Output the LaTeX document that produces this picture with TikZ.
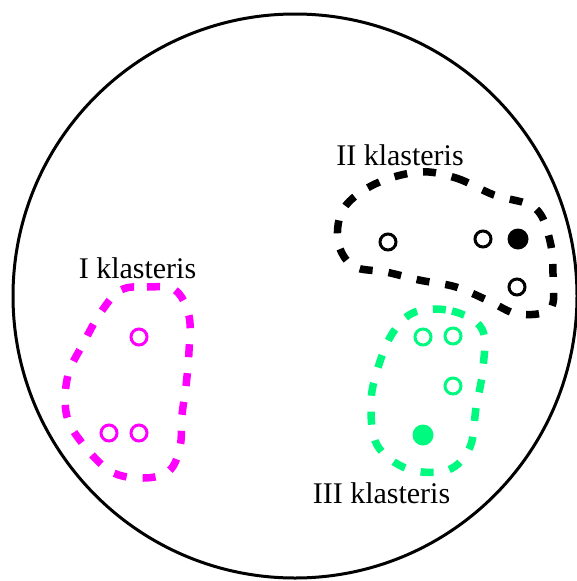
\documentclass[tikz,border=0pt]{standalone}
\usepackage{fontspec}
\setmainfont{Liberation Serif}
\usepackage{xcolor}
\usepackage{tikz}
\usetikzlibrary{positioning}
\definecolor{clmag}{RGB}{255,0,255}
\definecolor{clgreen}{RGB}{0,250,128}

\begin{document}
\begin{tikzpicture}[
    x=1pt, y=-1pt,
    obj/.style={draw, circle, line width=3pt, minimum size=16pt, inner sep=0pt},
    objfull/.style={circle, minimum size=21pt, inner sep=0pt},
    outline/.style={line width=7.5pt, dash pattern=on 13pt off 16pt},
    lbl/.style={font=\fontsize{30}{36}\selectfont, anchor=base, inner sep=0pt}
]
\useasboundingbox (0,0) rectangle (576,581);
% whole space
\node[draw, circle, line width=3pt, minimum size=564pt, inner sep=0pt] (space) at (295,296) {};

% cluster outlines
\draw[outline, clmag] plot[smooth cycle, tension=0.6] coordinates {
    (121,290) (147,287) (175,290) (189,316) (189,351) (186,386) (182,415) (180,447)
    (169,471) (143,478) (110,471) (79,439) (66,412) (68,375) (83,344) (101,312)};
\draw[outline, black] plot[smooth cycle, tension=0.6] coordinates {
    (419,172) (456,178) (494,195) (535,208) (550,241) (553,278) (550,309) (518,314)
    (489,301) (456,287) (419,280) (386,272) (353,266) (338,241) (344,208) (375,184)};
\draw[outline, clgreen] plot[smooth cycle, tension=0.6] coordinates {
    (415,312) (452,311) (482,329) (483,368) (476,408) (470,447) (448,470) (408,469)
    (377,445) (371,404) (377,371) (392,334)};

% I klasteris
\node[obj, clmag] (a1) at (139,337) {};
\node[obj, clmag] (a2) at (109,433) {};
\node[obj, clmag] (a3) at (139,433) {};
% II klasteris
\node[obj] (b1) at (388,242) {};
\node[obj] (b2) at (483,239) {};
\node[objfull, fill=black] (b3) at (518,239) {};
\node[obj] (b4) at (517,287) {};
% III klasteris
\node[obj, clgreen] (c1) at (423,337) {};
\node[obj, clgreen] (c2) at (453,336) {};
\node[obj, clgreen] (c3) at (453,386) {};
\node[objfull, fill=clgreen] (c4) at (423,435) {};

% labels
\node[lbl] (lblI) at (137.5,278) {I klasteris};
\node[lbl] (lblII) at (400,165) {II klasteris};
\node[lbl] (lblIII) at (381.5,503) {III klasteris};
\end{tikzpicture}
\end{document}
